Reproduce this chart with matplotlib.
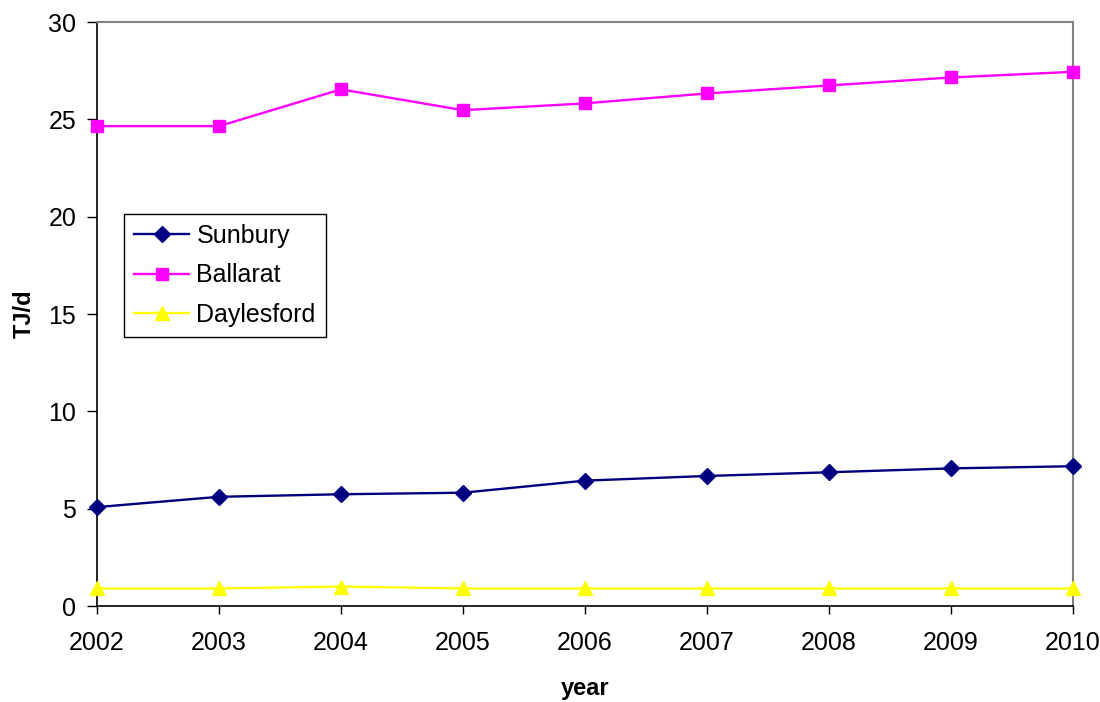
import matplotlib
matplotlib.use("Agg")
import matplotlib.pyplot as plt

years = [2002, 2003, 2004, 2005, 2006, 2007, 2008, 2009, 2010]
sunbury = [5.08, 5.61, 5.74, 5.82, 6.44, 6.68, 6.87, 7.07, 7.18]
ballarat = [24.65, 24.65, 26.54, 25.47, 25.82, 26.33, 26.74, 27.15, 27.44]
daylesford = [0.9, 0.9, 1.0, 0.9, 0.9, 0.9, 0.9, 0.9, 0.9]
yticks = [0, 5, 10, 15, 20, 25, 30]

plt.rcParams['font.family'] = ['Liberation Sans', 'DejaVu Sans']

W, H = 1100, 702
fig = plt.figure(figsize=(W/100, H/100), dpi=100)
ax = fig.add_axes([97/W, 1-606/H, (1073-97)/W, (606-22)/H])

ax.plot(years, sunbury, color='#000080', lw=1.7, marker='D', ms=8.5, label='Sunbury', clip_on=False, zorder=3)
ax.plot(years, ballarat, color='#FF00FF', lw=1.7, marker='s', ms=9, label='Ballarat', clip_on=False, zorder=3)
ax.plot(years, daylesford, color='#FFFF00', lw=1.7, marker='^', ms=10.5, label='Daylesford', clip_on=False, zorder=3)

ax.set_xlim(2002, 2010)
ax.set_ylim(0, 30)
ax.set_xticks(years)
ax.set_yticks(yticks)
ax.tick_params(axis='x', direction='out', length=6, width=1, labelsize=18, colors='black', pad=12)
ax.tick_params(axis='y', direction='out', length=7, width=1, labelsize=18, colors='black', pad=8)
for s in ['left', 'bottom']:
    ax.spines[s].set_color('black')
    ax.spines[s].set_linewidth(1.2)
for s in ['top', 'right']:
    ax.spines[s].set_color('#808080')
    ax.spines[s].set_linewidth(1.5)

ax.set_ylabel('TJ/d', fontsize=17, fontweight='bold', labelpad=9)
ax.set_xlabel('year', fontsize=17, fontweight='bold', labelpad=16)

leg = ax.legend(loc='upper left', bbox_to_anchor=(124/W, 1-214/H), bbox_transform=fig.transFigure,
                borderaxespad=0, fancybox=False, framealpha=1, edgecolor='black', fontsize=18,
                handlelength=2.2, labelspacing=0.62, borderpad=0.4, handletextpad=0.3)
leg.get_frame().set_linewidth(1.0)

fig.savefig('out.png', dpi=100, facecolor='white')
